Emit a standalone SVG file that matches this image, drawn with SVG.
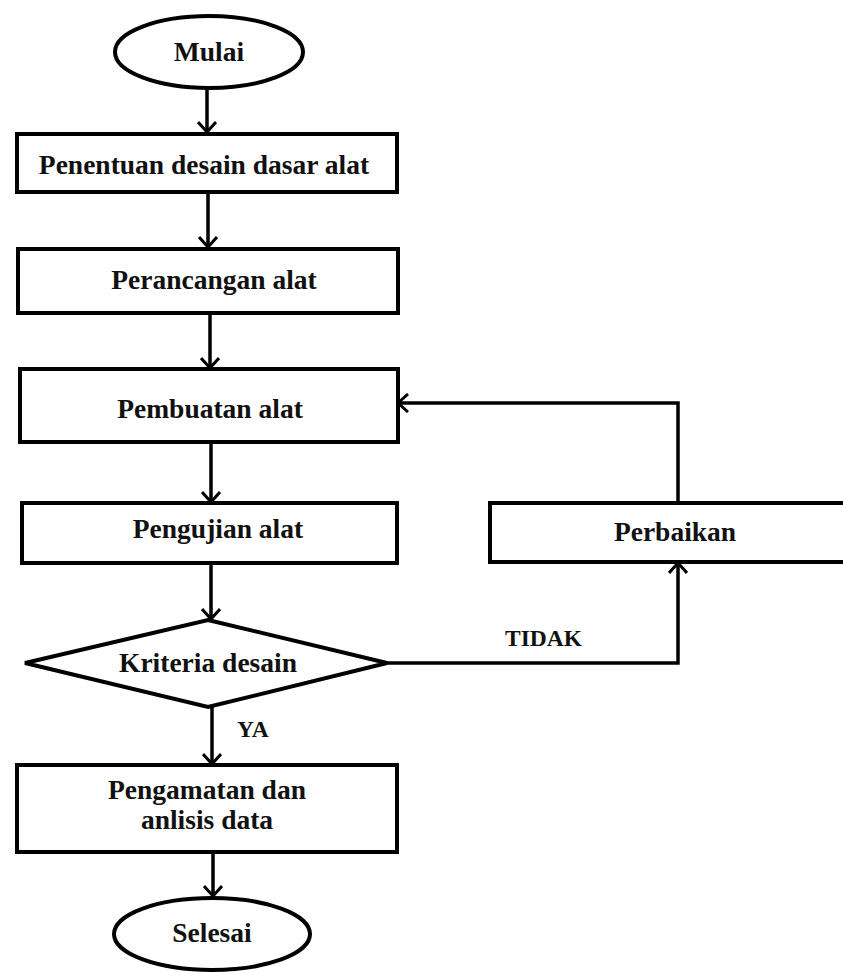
<svg xmlns="http://www.w3.org/2000/svg" width="843" height="972" viewBox="0 0 843 972">
<style>
.box{fill:#fff;stroke:#000;stroke-width:4}
.ln{fill:none;stroke:#000;stroke-width:3.5}
.t{font-family:'Liberation Serif','Times New Roman',Times,'DejaVu Serif',serif;font-weight:bold;font-size:27.5px;fill:#111;text-anchor:middle}
.lbl{font-family:'Liberation Serif','Times New Roman',Times,'DejaVu Serif',serif;font-weight:bold;font-size:23.5px;fill:#111}
</style>
<defs>
<marker id="arr" viewBox="0 0 12 20" refX="11" refY="10" markerWidth="12" markerHeight="20" markerUnits="userSpaceOnUse" orient="auto">
<path d="M1,1 L11,10 L1,19" fill="none" stroke="#000" stroke-width="3"/>
</marker>
</defs>
<rect width="843" height="972" fill="#fff"/>
<g id="connectors">
<line class="ln" x1="207" y1="88" x2="207" y2="132" marker-end="url(#arr)"/>
<line class="ln" x1="208" y1="192" x2="208" y2="247" marker-end="url(#arr)"/>
<line class="ln" x1="210" y1="313" x2="210" y2="368" marker-end="url(#arr)"/>
<line class="ln" x1="211" y1="442" x2="211" y2="502" marker-end="url(#arr)"/>
<line class="ln" x1="211" y1="563" x2="211" y2="619" marker-end="url(#arr)"/>
<line class="ln" x1="212" y1="707" x2="212" y2="764" marker-end="url(#arr)"/>
<line class="ln" x1="213" y1="852" x2="213" y2="896" marker-end="url(#arr)"/>
<polyline class="ln" points="387,663 678,663 678,563" marker-end="url(#arr)"/>
<polyline class="ln" points="678,503 678,403 398,403" marker-end="url(#arr)"/>
<text class="lbl" x="505" y="646">TIDAK</text>
<text class="lbl" x="237" y="737">YA</text>
</g>
<g id="mulai">
<ellipse class="box" cx="209" cy="52" rx="94" ry="36"/>
<text class="t" x="209" y="61">Mulai</text>
</g>
<g id="penentuan">
<rect class="box" x="17" y="134" width="380" height="58"/>
<text class="t" x="204" y="174">Penentuan desain dasar alat</text>
</g>
<g id="perancangan">
<rect class="box" x="18" y="249" width="380" height="64"/>
<text class="t" x="214" y="289">Perancangan alat</text>
</g>
<g id="pembuatan">
<rect class="box" x="20" y="369" width="378" height="73"/>
<text class="t" x="210" y="418">Pembuatan alat</text>
</g>
<g id="pengujian">
<rect class="box" x="22" y="503" width="375" height="60"/>
<text class="t" x="218" y="538">Pengujian alat</text>
</g>
<g id="kriteria">
<polygon class="box" points="208,620 387,663 208,707 25,663"/>
<text class="t" x="208" y="672">Kriteria desain</text>
</g>
<g id="perbaikan">
<rect class="box" x="490" y="503" width="360" height="59"/>
<text class="t" x="675" y="541">Perbaikan</text>
</g>
<g id="pengamatan">
<rect class="box" x="17" y="765" width="380" height="87"/>
<text class="t" x="207" y="799">Pengamatan dan</text>
<text class="t" x="207" y="829">anlisis data</text>
</g>
<g id="selesai">
<ellipse class="box" cx="212" cy="934" rx="98" ry="36"/>
<text class="t" x="212" y="942">Selesai</text>
</g>
</svg>
